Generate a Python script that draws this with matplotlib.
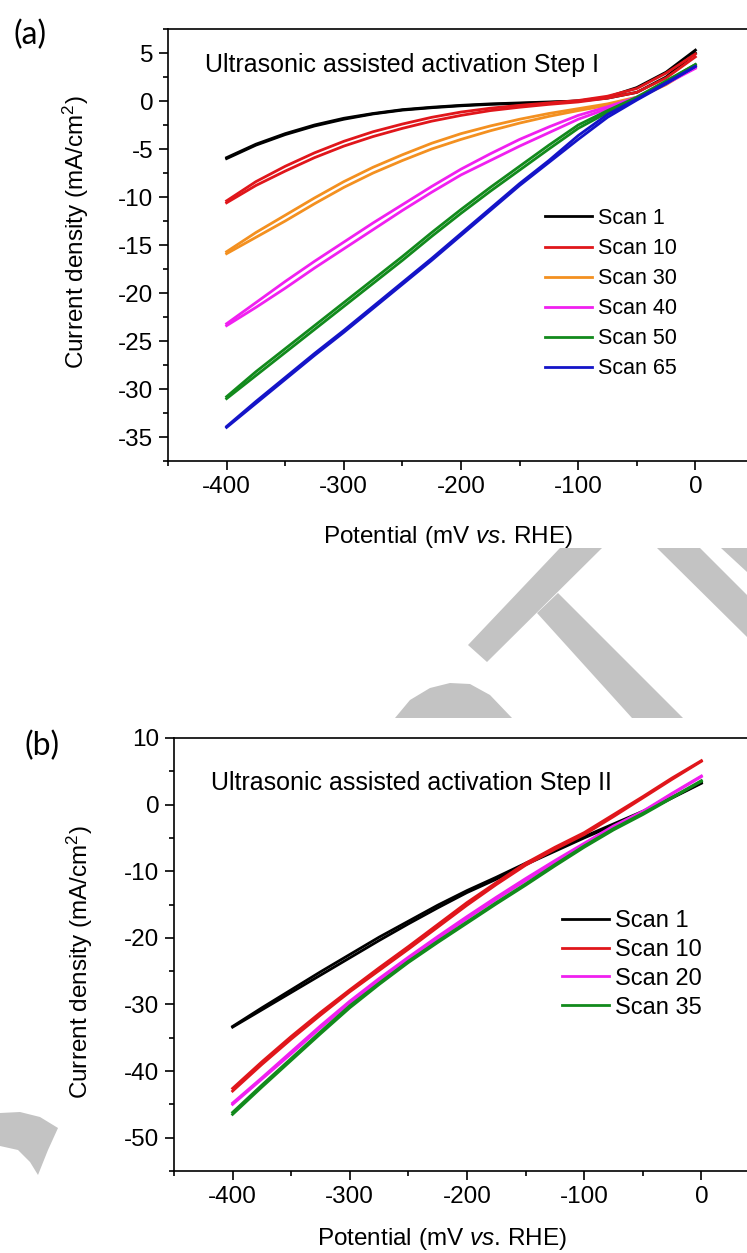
import numpy as np
import matplotlib
matplotlib.use("Agg")
import matplotlib.pyplot as plt
from matplotlib.patches import Polygon
from matplotlib.ticker import MultipleLocator

plt.rcParams['font.family'] = ['Liberation Sans', 'DejaVu Sans']
plt.rcParams['axes.unicode_minus'] = False
plt.rcParams['mathtext.fontset'] = 'custom'
plt.rcParams['mathtext.rm'] = 'Liberation Sans'
plt.rcParams['mathtext.it'] = 'Liberation Sans:italic'

# Section 1: data (potential in mV, current in mA/cm2)
potential = [-400, -375, -350, -325, -300, -275, -250, -225, -200,
             -175, -150, -125, -100, -75, -50, -25, 0]

# panel (a) - step I, forward and reverse traces
a_labels = ["Scan 1", "Scan 10", "Scan 30", "Scan 40", "Scan 50", "Scan 65"]
a_colors = ["#000000", "#e0161b", "#f39020", "#f020f0", "#128a1c", "#1414c8"]

a_scan1_fwd = [-6.0, -4.6, -3.5, -2.6, -1.9, -1.35, -0.95, -0.7, -0.5,
               -0.35, -0.25, -0.15, 0.0, 0.4, 1.4, 3.0, 5.3]
a_scan1_rev = [-5.9, -4.5, -3.4, -2.5, -1.8, -1.3, -0.9, -0.65, -0.45,
               -0.3, -0.2, -0.1, 0.0, 0.3, 0.9, 2.5, 5.0]
a_scan10_fwd = [-10.6, -8.8, -7.3, -5.9, -4.7, -3.7, -2.85, -2.1, -1.5,
                -1.0, -0.65, -0.35, -0.1, 0.3, 0.9, 2.4, 4.6]
a_scan10_rev = [-10.4, -8.4, -6.8, -5.4, -4.2, -3.2, -2.4, -1.7, -1.15,
                -0.75, -0.45, -0.2, 0.05, 0.5, 1.3, 2.9, 4.9]
a_scan30_fwd = [-15.9, -14.2, -12.5, -10.7, -9.0, -7.5, -6.2, -5.0, -4.0,
                -3.1, -2.3, -1.6, -1.0, -0.45, 0.3, 1.7, 3.6]
a_scan30_rev = [-15.7, -13.7, -11.9, -10.1, -8.4, -6.9, -5.6, -4.4, -3.4,
                -2.6, -1.9, -1.3, -0.8, -0.3, 0.4, 1.8, 3.7]
a_scan40_fwd = [-23.4, -21.5, -19.5, -17.4, -15.4, -13.4, -11.4, -9.5, -7.7,
                -6.2, -4.7, -3.3, -1.9, -0.8, 0.3, 1.8, 3.4]
a_scan40_rev = [-23.2, -21.0, -18.8, -16.7, -14.7, -12.7, -10.8, -8.9, -7.1,
                -5.5, -4.0, -2.7, -1.5, -0.6, 0.4, 1.9, 3.5]
a_scan50_fwd = [-31.0, -28.6, -26.2, -23.8, -21.4, -19.0, -16.6, -14.1, -11.7,
                -9.4, -7.2, -5.0, -2.85, -1.2, 0.3, 2.0, 3.8]
a_scan50_rev = [-30.8, -28.2, -25.8, -23.4, -21.0, -18.6, -16.2, -13.7, -11.3,
                -9.0, -6.8, -4.6, -2.5, -1.0, 0.4, 2.1, 3.8]
a_scan65_fwd = [-34.0, -31.5, -29.0, -26.5, -24.1, -21.6, -19.1, -16.6, -14.0,
                -11.4, -8.8, -6.4, -4.0, -1.7, 0.1, 1.8, 3.6]
a_scan65_rev = [-33.9, -31.3, -28.8, -26.3, -23.9, -21.4, -18.9, -16.4, -13.8,
                -11.2, -8.6, -6.2, -3.6, -1.4, 0.2, 1.9, 3.6]

# panel (b) - step II
b_labels = ["Scan 1", "Scan 10", "Scan 20", "Scan 35"]
b_colors = ["#000000", "#e0161b", "#f020f0", "#128a1c"]

b_scan1_fwd = [-33.4, -30.8, -28.2, -25.6, -23.0, -20.4, -17.9, -15.5, -13.2,
               -11.2, -9.0, -7.0, -5.0, -3.1, -1.2, 1.0, 3.2]
b_scan1_rev = [-33.3, -30.5, -27.8, -25.1, -22.5, -19.9, -17.5, -15.1, -12.9,
               -10.9, -8.8, -6.8, -4.8, -2.9, -1.0, 1.1, 3.3]
b_scan10_fwd = [-43.0, -39.0, -35.2, -31.6, -28.1, -24.9, -21.7, -18.4, -15.1,
                -12.0, -9.1, -6.7, -4.5, -1.8, 1.0, 3.8, 6.5]
b_scan10_rev = [-42.6, -38.6, -34.8, -31.2, -27.8, -24.5, -21.3, -18.0, -14.7,
                -11.7, -8.8, -6.4, -4.2, -1.5, 1.2, 4.0, 6.6]
b_scan20_fwd = [-45.0, -41.2, -37.4, -33.5, -29.8, -26.4, -23.2, -20.1, -17.1,
                -14.2, -11.4, -8.7, -6.1, -3.4, -1.1, 1.6, 4.2]
b_scan20_rev = [-44.8, -41.0, -37.1, -33.2, -29.5, -26.1, -22.9, -19.8, -16.8,
                -13.9, -11.1, -8.4, -5.8, -3.2, -1.0, 1.7, 4.3]
b_scan35_fwd = [-46.5, -42.4, -38.4, -34.4, -30.5, -27.0, -23.7, -20.7, -17.8,
                -14.9, -12.1, -9.2, -6.4, -3.8, -1.5, 1.0, 3.5]
b_scan35_rev = [-46.2, -42.1, -38.1, -34.1, -30.2, -26.8, -23.5, -20.5, -17.6,
                -14.7, -11.9, -9.0, -6.2, -3.6, -1.3, 1.1, 3.6]

a_fwd = [a_scan1_fwd, a_scan10_fwd, a_scan30_fwd, a_scan40_fwd, a_scan50_fwd, a_scan65_fwd]
a_rev = [a_scan1_rev, a_scan10_rev, a_scan30_rev, a_scan40_rev, a_scan50_rev, a_scan65_rev]
b_fwd = [b_scan1_fwd, b_scan10_fwd, b_scan20_fwd, b_scan35_fwd]
b_rev = [b_scan1_rev, b_scan10_rev, b_scan20_rev, b_scan35_rev]

W, H = 747, 1253


def px(x, y):
    # pixel position (from top-left) -> figure fraction
    return (x / W, 1 - y / H)


# Section 2: the figure
fig = plt.figure(figsize=(W / 100, H / 100), dpi=100)

# grey watermark pieces between and beside the panels
wm_shapes = [
    [(560, 548), (602, 548), (487, 662), (468, 645)],
    [(537, 613), (558, 593), (683, 718), (632, 718)],
    [(657, 548), (700, 548), (747, 595), (747, 637)],
    [(721, 548), (747, 548), (747, 572)],
    [(395, 718), (410, 700), (430, 688), (450, 683), (470, 684), (490, 695), (512, 718)],
    [(0, 1113), (20, 1112), (40, 1117), (58, 1128), (48, 1150), (38, 1175),
     (30, 1162), (18, 1150), (0, 1146)],
]
for shp in wm_shapes:
    fig.patches.append(Polygon([px(x, y) for x, y in shp], closed=True,
                               transform=fig.transFigure, facecolor="#c3c3c3",
                               edgecolor="none", zorder=-5))

FS = 17.5
XLAB = "Potential (mV $\\mathit{vs}$. RHE)"
YLAB = "Current density (mA/cm$^2$)"


def style_axes(ax, ylim, ymajor, yminor):
    ax.set_xlim(-450, 50)
    ax.set_ylim(*ylim)
    ax.xaxis.set_major_locator(MultipleLocator(100))
    ax.xaxis.set_minor_locator(MultipleLocator(50))
    ax.yaxis.set_major_locator(MultipleLocator(ymajor))
    ax.yaxis.set_minor_locator(MultipleLocator(yminor))
    ax.tick_params(which="both", direction="out", top=False, right=False,
                   width=1.2, labelsize=FS, pad=4)
    ax.tick_params(which="major", length=6.5)
    ax.tick_params(which="minor", length=3.6)
    for s in ax.spines.values():
        s.set_linewidth(1.2)
    ax.set_facecolor("white")


# (a) Step I
ax1 = fig.add_axes([168 / W, 1 - 461 / H, 586 / W, 432 / H])
for fwd, rev, c, lab in zip(a_fwd, a_rev, a_colors, a_labels):
    ax1.plot(potential, fwd, color=c, lw=2.0, label=lab)
    ax1.plot(potential, rev, color=c, lw=2.0)
style_axes(ax1, (-37.5, 7.5), 5, 2.5)
ax1.set_xlabel(XLAB, fontsize=FS)
ax1.set_ylabel(YLAB, fontsize=FS)
ax1.xaxis.set_label_coords(0.478, -0.146)
ax1.yaxis.set_label_coords(-0.132, 0.53)
ax1.text(0.063, 0.917, "Ultrasonic assisted activation Step I",
         transform=ax1.transAxes, fontsize=18, va="center", ha="left")
ax1.legend(loc="upper left", bbox_to_anchor=px(545, 208),
           bbox_transform=fig.transFigure, frameon=False, fontsize=15.5,
           borderpad=0, borderaxespad=0, labelspacing=0.42,
           handlelength=2.2, handletextpad=0.25)

# (b) Step II
ax2 = fig.add_axes([174 / W, 1 - 1171 / H, 586 / W, 433 / H])
for fwd, rev, c, lab in zip(b_fwd, b_rev, b_colors, b_labels):
    ax2.plot(potential, fwd, color=c, lw=2.0, label=lab)
    ax2.plot(potential, rev, color=c, lw=2.0)
style_axes(ax2, (-55, 10), 10, 5)
ax2.set_xlabel(XLAB, fontsize=FS)
ax2.set_ylabel(YLAB, fontsize=FS)
ax2.xaxis.set_label_coords(0.457, -0.127)
ax2.yaxis.set_label_coords(-0.134, 0.483)
ax2.text(0.063, 0.896, "Ultrasonic assisted activation Step II",
         transform=ax2.transAxes, fontsize=18, va="center", ha="left")
ax2.legend(loc="upper left", bbox_to_anchor=px(562, 910),
           bbox_transform=fig.transFigure, frameon=False, fontsize=17,
           borderpad=0, borderaxespad=0, labelspacing=0.29,
           handlelength=2.0, handletextpad=0.25)

# panel letters
fig.text(*px(30, 35), "(a)", fontsize=23, family=["Lato", "DejaVu Sans"],
         ha="center", va="center")
fig.text(*px(42, 746), "(b)", fontsize=23, family=["Lato", "DejaVu Sans"],
         ha="center", va="center")

fig.savefig("out.png", dpi=100)
